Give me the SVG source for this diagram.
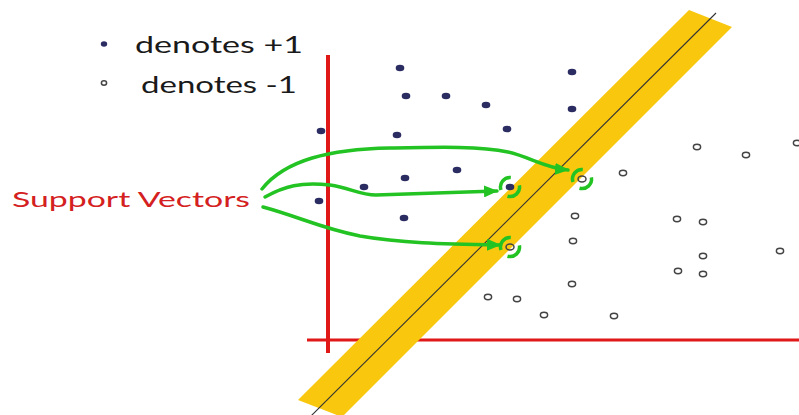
<svg xmlns="http://www.w3.org/2000/svg" width="799" height="415" viewBox="0 0 799 415">
<defs>
<style>
.pos{fill:#2b2d62}
.neg{fill:none;stroke:#444;stroke-width:1.5}
.arrow{fill:none;stroke:#22c322;stroke-width:3.5;stroke-linecap:round}
.brk{fill:none;stroke:#22c322;stroke-width:3.5}
.legend{font-family:Lato,"Liberation Sans",sans-serif;font-size:24px;fill:#1a1a1a}
.sv{font-family:Lato,"Liberation Sans",sans-serif;font-size:21px;fill:#d42020}
.axis{stroke:#e01818}
</style>
<marker id="ah" markerUnits="userSpaceOnUse" markerWidth="15" markerHeight="12" refX="13" refY="6" orient="auto">
<path d="M0,0 L14,6 L0,12 Z" fill="#22c322"/>
</marker>
</defs>
<rect width="799" height="415" fill="#fff"/>

<g id="legend">
<ellipse class="pos" cx="104" cy="44" rx="3.2" ry="2.8"/>
<text class="legend" x="135" y="53" textLength="168" lengthAdjust="spacingAndGlyphs">denotes +1</text>
<ellipse class="neg" cx="104" cy="83" rx="2.6" ry="2.2"/>
<text class="legend" x="141" y="93" textLength="156" lengthAdjust="spacingAndGlyphs">denotes -1</text>
</g>

<g id="axes">
<line class="axis" x1="328" y1="55" x2="328" y2="353" stroke-width="4"/>
<line class="axis" x1="307" y1="340" x2="799" y2="340" stroke-width="3"/>
</g>

<g id="margin">
<polygon points="689,10 732,27 342,417 298,400" fill="#f9c80e"/>
<line x1="716" y1="13" x2="311" y2="416" stroke="#333" stroke-width="1.1"/>
</g>

<g id="positives">
<ellipse class="pos" cx="400" cy="68" rx="4.3" ry="3.3"/>
<ellipse class="pos" cx="572" cy="72" rx="4.3" ry="3.3"/>
<ellipse class="pos" cx="406" cy="96" rx="4.3" ry="3.3"/>
<ellipse class="pos" cx="446" cy="96" rx="4.3" ry="3.3"/>
<ellipse class="pos" cx="486" cy="105" rx="4.3" ry="3.3"/>
<ellipse class="pos" cx="572" cy="109" rx="4.3" ry="3.3"/>
<ellipse class="pos" cx="321" cy="131" rx="4.3" ry="3.3"/>
<ellipse class="pos" cx="397" cy="135" rx="4.3" ry="3.3"/>
<ellipse class="pos" cx="507" cy="129" rx="4.3" ry="3.3"/>
<ellipse class="pos" cx="457" cy="170" rx="4.3" ry="3.3"/>
<ellipse class="pos" cx="405" cy="178" rx="4.3" ry="3.3"/>
<ellipse class="pos" cx="364" cy="187" rx="4.3" ry="3.3"/>
<ellipse class="pos" cx="319" cy="201" rx="4.3" ry="3.3"/>
<ellipse class="pos" cx="404" cy="218" rx="4.3" ry="3.3"/>
<ellipse class="pos" cx="510" cy="187" rx="4.3" ry="3.3"/>
</g>

<g id="negatives">
<ellipse class="neg" cx="582" cy="179" rx="4" ry="3"/>
<ellipse class="neg" cx="575" cy="216" rx="3.6" ry="2.7"/>
<ellipse class="neg" cx="573" cy="241" rx="3.6" ry="2.7"/>
<ellipse class="neg" cx="510" cy="247" rx="4" ry="3"/>
<ellipse class="neg" cx="697" cy="147" rx="3.6" ry="2.7"/>
<ellipse class="neg" cx="746" cy="155" rx="3.6" ry="2.7"/>
<ellipse class="neg" cx="797" cy="143" rx="3.6" ry="2.7"/>
<ellipse class="neg" cx="623" cy="173" rx="3.6" ry="2.7"/>
<ellipse class="neg" cx="677" cy="219" rx="3.6" ry="2.7"/>
<ellipse class="neg" cx="703" cy="222" rx="3.6" ry="2.7"/>
<ellipse class="neg" cx="780" cy="251" rx="3.6" ry="2.7"/>
<ellipse class="neg" cx="703" cy="256" rx="3.6" ry="2.7"/>
<ellipse class="neg" cx="678" cy="271" rx="3.6" ry="2.7"/>
<ellipse class="neg" cx="703" cy="274" rx="3.6" ry="2.7"/>
<ellipse class="neg" cx="488" cy="297" rx="3.6" ry="2.7"/>
<ellipse class="neg" cx="517" cy="299" rx="3.6" ry="2.7"/>
<ellipse class="neg" cx="572" cy="284" rx="3.6" ry="2.7"/>
<ellipse class="neg" cx="544" cy="315" rx="3.6" ry="2.7"/>
<ellipse class="neg" cx="614" cy="316" rx="3.6" ry="2.7"/>
</g>

<g id="support-label">
<text class="sv" x="12" y="207" textLength="238" lengthAdjust="spacingAndGlyphs">Support Vectors</text>
</g>

<g id="brackets">
<path class="brk" d="M501,190 A9.5,9.5 0 0 1 510.8,177.5"/>
<path class="brk" d="M519.4,185.4 A9.5,9.5 0 0 1 507.5,196.2"/>
<path class="brk" d="M573,182 A9.5,9.5 0 0 1 582.8,169.5"/>
<path class="brk" d="M591.4,177.4 A9.5,9.5 0 0 1 579.5,188.2"/>
<path class="brk" d="M501,250 A9.5,9.5 0 0 1 510.8,237.5"/>
<path class="brk" d="M519.4,245.4 A9.5,9.5 0 0 1 507.5,256.2"/>
</g>

<g id="connectors">
<path class="arrow" marker-end="url(#ah)" d="M262,189 C285,160 330,149 390,148 C440,147 480,146 508,152 C530,157 545,168 568,170"/>
<path class="arrow" marker-end="url(#ah)" d="M265,197 C285,186 300,182 330,185 C350,188 360,195 376,195 L497,191"/>
<path class="arrow" marker-end="url(#ah)" d="M263,207 C300,217 320,228 360,236 C400,243 440,244 500,245"/>
</g>
</svg>
